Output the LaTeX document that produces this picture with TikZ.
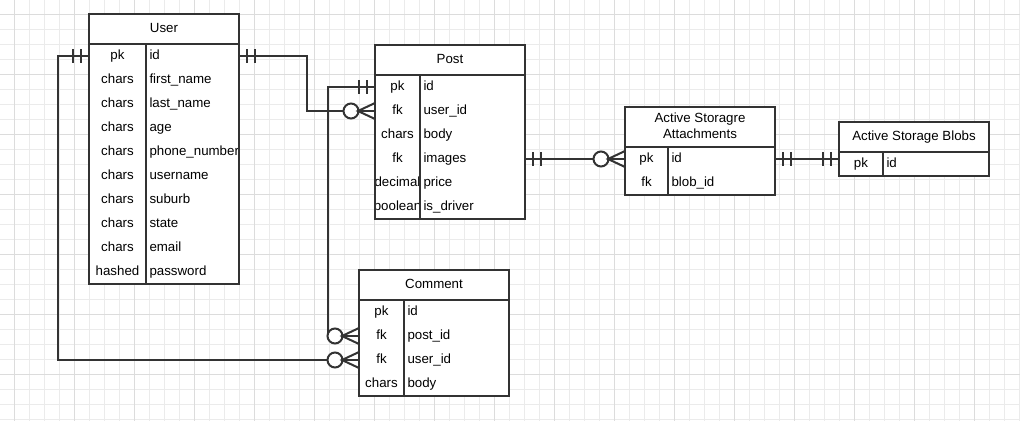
\documentclass[tikz,border=0pt]{standalone}
\usepackage{fontspec}
\setmainfont{Liberation Sans}
\usetikzlibrary{calc}
\definecolor{lc}{HTML}{333333}
\definecolor{tc}{HTML}{000000}
\definecolor{gminor}{HTML}{EBEBEB}
\definecolor{gmajor}{HTML}{DCDCDC}
\tikzset{
  conn/.style={draw=lc, line width=2pt},
  tbl/.style={draw=lc, line width=2pt},
  rowbox/.style={minimum width=150pt, minimum height=24pt, inner sep=0pt, outer sep=0pt, anchor=north west},
  hdrbox/.style={minimum width=150pt, inner sep=0pt, outer sep=0pt, anchor=north west},
  txt/.style={font=\fontsize{13.3pt}{16pt}\selectfont, text=tc, inner sep=0pt, outer sep=0pt},
}
% #1 name, #2 x, #3 y, #4 header height, #5 type col width, #6 rows, #7 header text, #8 rows list
\newcommand{\ertable}[8]{%
  \fill[white] (#2,#3) rectangle ++(150,{#4+24*#6});
  \node[hdrbox, minimum height=#4pt] (#1-hdr) at (#2,#3) {};
  \node[txt, anchor=base] at ($(#1-hdr.center)+(0,3)$) {#7};
  \foreach \t/\f [count=\i] in {#8} {
    \node[rowbox] (#1-\i) at (#2,{#3+#4+24*(\i-1)}) {};
    \node[txt, anchor=base] at ($(#1-\i.west)+({#5/2},3)$) {\t};
    \node[txt, anchor=base west] at ($(#1-\i.west)+({#5+3.5},3)$) {\f};
  }
  \draw[tbl] (#2,#3) rectangle ++(150,{#4+24*#6});
  \draw[tbl] (#1-hdr.south west) -- (#1-hdr.south east);
  \draw[tbl] ($(#1-1.north west)+(#5,0)$) -- ($(#1-#6.south west)+(#5,0)$);
}
\newcommand{\ermandone}[2]{\draw[conn, shift={(#1)}, xscale=#2] (8,-7) -- (8,7) (16,-7) -- (16,7);}
\newcommand{\ermany}[2]{%
  \draw[conn, shift={(#1)}, xscale=#2, fill=white] (24,0) circle[radius=7.5pt];
  \draw[conn, shift={(#1)}, xscale=#2] (0,-8) -- (17,0) -- (0,8);}
\begin{document}
\begin{tikzpicture}[x=1pt, y=-1pt]
\useasboundingbox (0,0) rectangle (1020,421);
\fill[white] (0,0) rectangle (1020,421);
% grid
\foreach \x in {-1,14,...,1019} \draw[gminor, line width=1pt] (\x,0) -- (\x,421);
\foreach \y in {-1,14,...,419} \draw[gminor, line width=1pt] (0,\y) -- (1020,\y);
\foreach \x in {14,74,...,974} \draw[gmajor, line width=1pt] (\x,0) -- (\x,421);
\foreach \y in {14,74,...,374} \draw[gmajor, line width=1pt] (0,\y) -- (1020,\y);
% tables
\ertable{user}{89}{14}{30}{57}{10}{User}{pk/id, chars/first\_name, chars/last\_name, chars/age, chars/phone\_number, chars/username, chars/suburb, chars/state, chars/email, hashed/password}
\ertable{post}{375}{45}{30}{45}{6}{Post}{pk/id, fk/user\_id, chars/body, fk/images, decimal/price, boolean/is\_driver}
\ertable{att}{625}{107}{40}{43}{2}{}{pk/id, fk/blob\_id}
\node[txt, anchor=base] at ($(att-hdr.center)+(0,-4.5)$) {Active Storagre};
\node[txt, anchor=base] at ($(att-hdr.center)+(0,11)$) {Attachments};
\ertable{blob}{839}{122}{30}{44}{1}{Active Storage Blobs}{pk/id}
\ertable{cmt}{359}{270}{30}{45}{4}{Comment}{pk/id, fk/post\_id, fk/user\_id, chars/body}
% connectors
\draw[conn] (user-1.west) -- ++(-31,0) |- (cmt-3.west);
\draw[conn] (user-1.east) -- ++(68,0) |- (post-2.west);
\draw[conn] (post-1.west) -- ++(-47,0) |- (cmt-2.west);
\draw[conn] (post-4.east) -- (att-1.west);
\coordinate (blobin) at (att-1.east -| blob-1.west);
\draw[conn] (att-1.east) -- (blobin);
% markers
\ermandone{user-1.west}{-1}
\ermany{cmt-3.west}{-1}
\ermandone{user-1.east}{1}
\ermany{post-2.west}{-1}
\ermandone{post-1.west}{-1}
\ermany{cmt-2.west}{-1}
\ermandone{post-4.east}{1}
\ermany{att-1.west}{-1}
\ermandone{att-1.east}{1}
\ermandone{blobin}{-1}
\end{tikzpicture}
\end{document}
